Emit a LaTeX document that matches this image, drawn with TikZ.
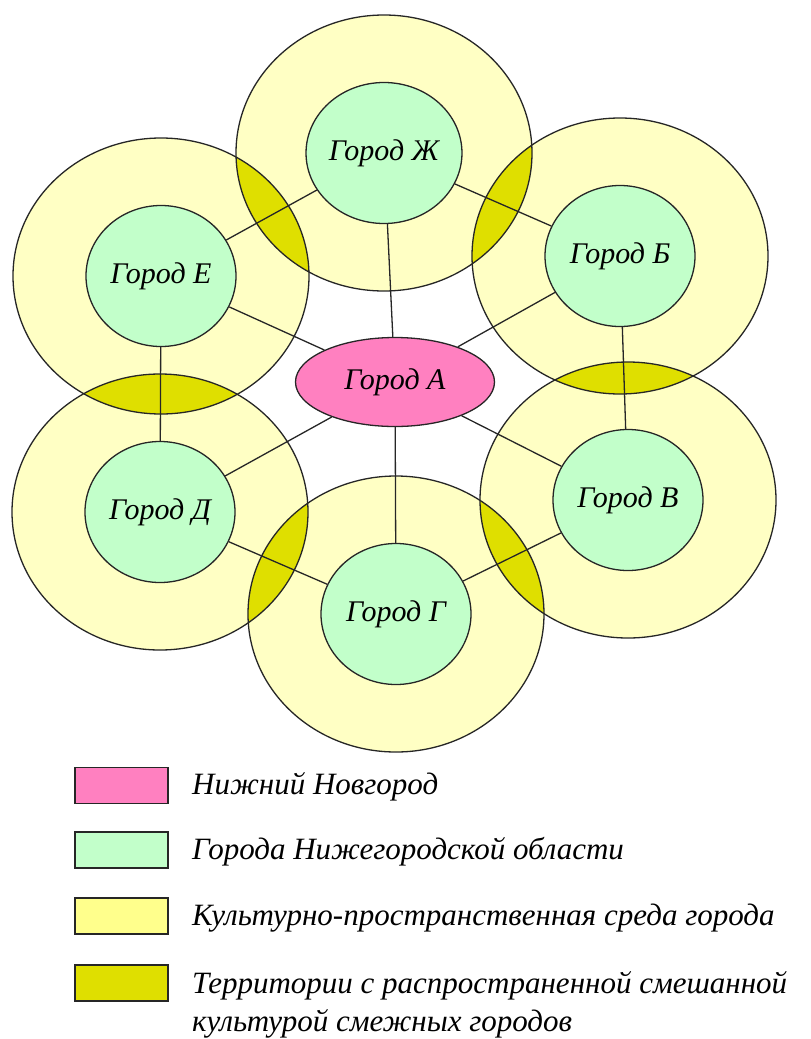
\documentclass[tikz,border=0pt]{standalone}
\usepackage{fontspec}
\setmainfont{Liberation Serif}[ItalicFont={Liberation Serif Italic}]
\usetikzlibrary{shapes.geometric}
\definecolor{ylw}{HTML}{FFFFC4}
\definecolor{ylwleg}{HTML}{FFFF8C}
\definecolor{lens}{HTML}{DFDF00}
\definecolor{grn}{HTML}{C2FFCA}
\definecolor{pnk}{HTML}{FF80C0}
\tikzset{
  zone/.style={ellipse, minimum width=296pt, minimum height=276pt, inner sep=0pt},
  city/.style={ellipse, draw=black!85, line width=1.3pt, fill=grn, minimum width=150pt, minimum height=141pt, inner sep=0pt, font=\fontsize{30}{36}\selectfont\itshape},
  capital/.style={ellipse, draw=black!85, line width=1.3pt, fill=pnk, minimum width=199pt, minimum height=89pt, inner sep=0pt, font=\fontsize{30}{36}\selectfont\itshape},
  link/.style={draw=black!85, line width=1.3pt},
  legbox/.style={rectangle, draw=black!85, line width=1.5pt, minimum width=93pt, minimum height=36pt, inner sep=0pt},
  legtext/.style={anchor=base west, inner sep=0pt, font=\fontsize{31}{38}\selectfont\itshape, align=left},
}
\begin{document}
\begin{tikzpicture}[x=1pt,y=-1pt]
\useasboundingbox (0,0) rectangle (811,1039);
% zone centres
\coordinate (pZh) at (384,153);
\coordinate (pB) at (620,256);
\coordinate (pV) at (628,500);
\coordinate (pG) at (396,614);
\coordinate (pD) at (160,512);
\coordinate (pE) at (161,276);
% yellow zones (fill)
\foreach \p in {pZh,pB,pV,pG,pD,pE}
  \fill[ylw] (\p) ellipse [x radius=148pt, y radius=138pt];
% lenses
\foreach \a/\b in {pZh/pE,pZh/pB,pB/pV,pV/pG,pG/pD,pD/pE}{
  \begin{scope}
    \clip (\a) ellipse [x radius=148pt, y radius=138pt];
    \fill[lens] (\b) ellipse [x radius=148pt, y radius=138pt];
  \end{scope}
}
% yellow zone outlines
\foreach \p in {pZh,pB,pV,pG,pD,pE}
  \node[zone, draw=black!85, line width=1.3pt] (z\p) at (\p) {};
% cities
\node[city] (Zh) at (pZh) {Город Ж};
\node[city] (B) at (pB) {Город Б};
\node[city] (V) at (pV) {Город В};
\node[city] (G) at (pG) {Город Г};
\node[city] (D) at (pD) {Город Д};
\node[city] (E) at (pE) {Город Е};
\node[capital] (A) at (395,382) {Город А};
% links
\foreach \c in {Zh,B,V,G,D,E}
  \draw[link] (A) -- (\c);
\draw[link] (Zh) -- (E);
\draw[link] (Zh) -- (B);
\draw[link] (B) -- (V);
\draw[link] (V) -- (G);
\draw[link] (G) -- (D);
\draw[link] (D) -- (E);
% legend
\node[legbox, fill=pnk] (L1) at (121.5,785.5) {};
\node[legbox, fill=grn] (L2) at (121.5,850) {};
\node[legbox, fill=ylwleg] (L3) at (121.5,916) {};
\node[legbox, fill=lens] (L4) at (121.5,983) {};
\node[legtext] (T1) at (192,794) {Нижний Новгород};
\node[legtext] (T2) at (192,859) {Города Нижегородской области};
\node[legtext] (T3) at (192,925) {Культурно-пространственная среда города};
\node[legtext] (T4) at (192,1031) {Территории с распространенной смешанной\\культурой смежных городов};
\end{tikzpicture}
\end{document}
